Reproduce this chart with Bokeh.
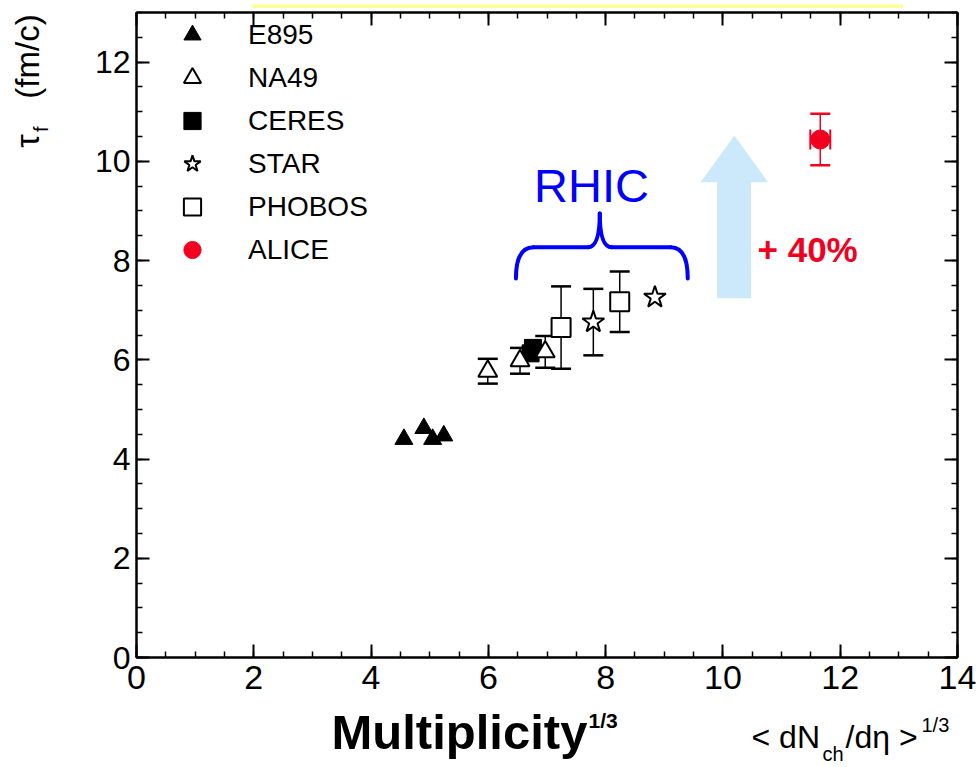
import math
from bokeh.plotting import figure
from bokeh.layouts import column, row
from bokeh.models import (ColumnDataSource, Whisker, TeeHead, Label, Legend, LegendItem,
                          LinearAxis, SingleIntervalTicker, Range1d)
from bokeh.embed import file_html
from bokeh.resources import INLINE

# ---------------- data ----------------
e895_x = [4.56, 4.90, 5.05, 5.24]
e895_y = [4.40, 4.62, 4.40, 4.47]

na49_x = [5.99, 6.54, 6.97]
na49_y = [5.77, 5.98, 6.16]
na49_err = [0.25, 0.26, 0.32]

ceres_x = [6.72, 6.76]
ceres_y = [6.13, 6.24]

star_x = [7.79, 8.84]
star_y = [6.76, 7.26]
star_err = [0.67, 0.0]

phobos_x = [7.24, 8.24]
phobos_y = [6.65, 7.17]
phobos_err = [0.83, 0.61]

alice_x = [11.66]
alice_y = [10.44]
alice_yerr = [0.52]
alice_xerr = [0.17]

series_names = ["E895", "NA49", "CERES", "STAR", "PHOBOS", "ALICE"]

# annotation geometry (data units)
arrow_x = [9.90, 10.48, 10.48, 10.77, 10.195, 9.62, 9.90]
arrow_y = [7.24, 7.24, 9.58, 9.58, 10.52, 9.58, 9.58]

FONT = "Liberation Sans"
RED = "#f2001f"
BLUE = "#0000ff"

W, H = 979, 767
TOP_H = 8                 # yellow strip panel
YT_W = 60                 # y-title panel width
L, R, T, B = 136, 22, 12, 110
FW, FH = W - L - R, H - T - B      # 821 x 645
XMAX, YMAX = 14, 13
MAIN_BOTTOM = 47
MAIN_W = W - YT_W
MAIN_H = (T - TOP_H) + FH + MAIN_BOTTOM
BOT_H = H - TOP_H - MAIN_H


def px_to_data(px, py):
    return (px - L) / (FW / XMAX), (T + FH - py) / (FH / YMAX)


def ident(px, py):
    return px, py


def add_text(fig, text, px, py, size, conv=ident, color="black", style="normal",
             angle=0.0, align="left"):
    off = 0.42 * size
    if angle == 0:
        px2, py2 = px, py - off
    else:
        px2, py2 = px - off, py
    x, y = conv(px2, py2)
    fig.add_layout(Label(text=text, x=x, y=y, text_font=FONT, text_font_size=f"{size}px",
                         text_color=color, text_font_style=style, angle=angle,
                         text_align=align, text_baseline="alphabetic"))


def blank_fig(width, height, x0, x1, y0, y1):
    f = figure(width=width, height=height, x_range=Range1d(x0, x1), y_range=Range1d(y0, y1),
               output_backend="svg", toolbar_location=None,
               min_border_left=0, min_border_right=0, min_border_top=0, min_border_bottom=0,
               x_axis_location=None, y_axis_location=None)
    f.xgrid.visible = False
    f.ygrid.visible = False
    f.outline_line_color = None
    f.background_fill_color = "white"
    f.border_fill_color = "white"
    return f


# ---------------- main plot ----------------
p = figure(width=MAIN_W, height=MAIN_H, x_range=Range1d(0, XMAX), y_range=Range1d(0, YMAX),
           output_backend="svg", toolbar_location=None,
           min_border_left=L - YT_W, min_border_right=R, min_border_top=T - TOP_H,
           min_border_bottom=MAIN_BOTTOM, x_axis_location=None, y_axis_location=None)
p.xgrid.visible = False
p.ygrid.visible = False
p.outline_line_color = "black"
p.outline_line_width = 2
p.background_fill_color = "white"
p.border_fill_color = "white"


def make_axis(show_labels, size=None):
    ax = LinearAxis(ticker=SingleIntervalTicker(interval=2, num_minor_ticks=4))
    ax.major_tick_in = 13
    ax.major_tick_out = 0
    ax.minor_tick_in = 6
    ax.minor_tick_out = 0
    ax.major_tick_line_width = 2
    ax.minor_tick_line_width = 1.5
    ax.axis_line_width = 2
    ax.axis_line_color = "black"
    if show_labels:
        ax.major_label_text_font = FONT
        ax.major_label_text_font_size = size
        ax.major_label_text_color = "black"
    else:
        ax.major_label_text_font_size = "1px"
        ax.major_label_text_color = None
        ax.major_label_standoff = 0
    return ax


xb = make_axis(True, "34px")
xb.major_label_standoff = 8
p.add_layout(xb, "below")
yl = make_axis(True, "32px")
yl.major_label_standoff = 6
p.add_layout(yl, "left")
p.add_layout(make_axis(False), "above")
p.add_layout(make_axis(False), "right")

# light-blue arrow
p.patch(arrow_x, arrow_y, fill_color="#cce9fb", line_color=None)

# RHIC brace
bw = 4
p.quadratic(x0=[6.47, 7.70, 8.10, 9.11], y0=[7.64, 8.27, 8.27, 8.27],
            x1=[6.77, 7.90, 7.90, 9.40], y1=[8.27, 8.95, 8.95, 7.64],
            cx=[6.47, 7.90, 7.90, 9.40], cy=[8.27, 8.27, 8.27, 8.27],
            line_color=BLUE, line_width=bw, line_cap="round")
p.segment(x0=[6.77, 8.10], y0=[8.27, 8.27], x1=[7.70, 9.11], y1=[8.27, 8.27],
          line_color=BLUE, line_width=bw, line_cap="round")


def add_yerr(xs, ys, errs, color="black", lw=1.5):
    pts = [(x, y, e) for x, y, e in zip(xs, ys, errs) if e > 0]
    src = ColumnDataSource(dict(x=[a for a, _, _ in pts],
                                lo=[b - c for _, b, c in pts],
                                hi=[b + c for _, b, c in pts]))
    p.add_layout(Whisker(source=src, base="x", lower="lo", upper="hi", dimension="height",
                         line_color=color, line_width=lw,
                         upper_head=TeeHead(size=20, line_width=2.5, line_color=color),
                         lower_head=TeeHead(size=20, line_width=2.5, line_color=color)))


add_yerr(na49_x, na49_y, na49_err)
add_yerr(star_x, star_y, star_err)
add_yerr(phobos_x, phobos_y, phobos_err)
add_yerr(alice_x, alice_y, alice_yerr, color=RED, lw=1.5)
src_ax = ColumnDataSource(dict(y=alice_y,
                               lo=[a - b for a, b in zip(alice_x, alice_xerr)],
                               hi=[a + b for a, b in zip(alice_x, alice_xerr)]))
p.add_layout(Whisker(source=src_ax, base="y", lower="lo", upper="hi", dimension="width",
                     line_color=RED, line_width=1.5,
                     upper_head=TeeHead(size=20, line_width=2, line_color=RED),
                     lower_head=TeeHead(size=20, line_width=2, line_color=RED)))

r_e = p.scatter(e895_x, e895_y, marker="triangle", size=18, fill_color="black", line_color="black")
r_c = p.scatter(ceres_x, ceres_y, marker="square", size=17, fill_color="black", line_color="black")
r_n = p.scatter(na49_x, na49_y, marker="triangle", size=19, fill_color="white",
                line_color="black", line_width=2)
r_p = p.scatter(phobos_x, phobos_y, marker="square", size=19, fill_color="white",
                line_color="black", line_width=2)
r_s = p.scatter(star_x, star_y, marker="star", size=23, fill_color="white",
                line_color="black", line_width=2)
r_a = p.scatter(alice_x, alice_y, marker="circle", size=19, fill_color=RED, line_color=RED)

GH = 43
GW = 48
legend_h = 6 * GH
legend = Legend(items=[LegendItem(label=n, renderers=[r]) for n, r in
                       zip(series_names, [r_e, r_n, r_c, r_s, r_p, r_a])],
                location=(32, FH - 1 - legend_h), padding=0, margin=0, spacing=0,
                glyph_height=GH, glyph_width=GW, label_height=GH, label_standoff=32,
                label_text_font=FONT, label_text_font_size="28px",
                label_text_color="black", label_text_baseline="middle",
                border_line_color=None, background_fill_alpha=0)
p.add_layout(legend)

add_text(p, "RHIC", 591, 205, 47, conv=px_to_data, color=BLUE, align="center")
add_text(p, "+ 40%", 757, 264, 35, conv=px_to_data, color=RED, style="bold")

# ---------------- top strip ----------------
topf = blank_fig(W, TOP_H, 0, W, TOP_H, 0)
topf.quad(left=[252], right=[902], top=[0], bottom=[4], fill_color="#ffff99",
          line_color="#ffff99", line_width=1)

# ---------------- y title panel (pixel coordinates) ----------------
yf = blank_fig(YT_W, MAIN_H, 0, YT_W, TOP_H + MAIN_H, TOP_H)
add_text(yf, "\u03c4", 41, 154, 34, angle=math.pi / 2)
add_text(yf, "f", 49, 137, 20, angle=math.pi / 2)
add_text(yf, "(fm/c)", 41, 101, 33, angle=math.pi / 2)

# ---------------- bottom titles panel (pixel coordinates) ----------------
y_bot0 = TOP_H + MAIN_H
bf = blank_fig(W, BOT_H, 0, W, H, y_bot0)
add_text(bf, "Multiplicity", 331, 752, 49, style="bold")
add_text(bf, "1/3", 588, 729, 21, style="bold")
add_text(bf, "< dN", 751, 750, 32)
add_text(bf, "ch", 822, 762, 20)
add_text(bf, "/d\u03b7 >", 845, 750, 32)
add_text(bf, "1/3", 921, 733, 20)

layout = column(topf, row(yf, p, spacing=0), bf, spacing=0)
open("out.html", "w").write(file_html(layout, INLINE))
